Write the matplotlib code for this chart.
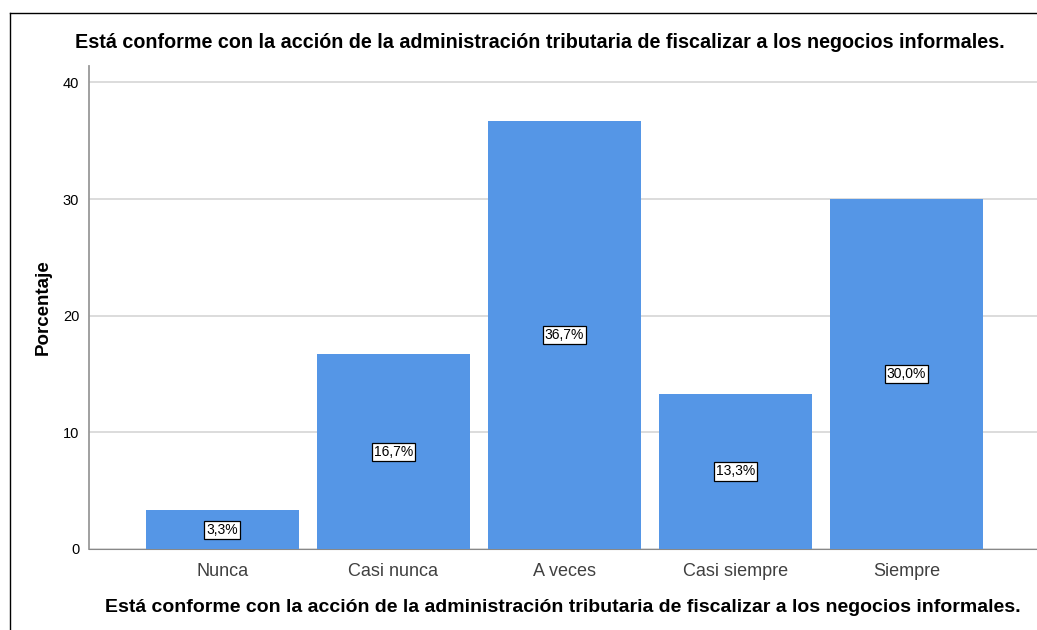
import matplotlib
matplotlib.use('Agg')
import matplotlib.pyplot as plt
from matplotlib.lines import Line2D

plt.rcParams['font.family'] = ['Liberation Sans', 'DejaVu Sans']

categorias = ['Nunca', 'Casi nunca', 'A veces', 'Casi siempre', 'Siempre']
porcentajes = [3.3, 16.7, 36.7, 13.3, 30.0]
etiquetas = ['3,3%', '16,7%', '36,7%', '13,3%', '30,0%']
yticks = [0, 10, 20, 30, 40]
titulo = 'Está conforme con la acción de la administración tributaria de fiscalizar a los negocios informales.'

fig = plt.figure(figsize=(10.37, 6.30), dpi=100)
ax = fig.add_axes([0.0858, 0.1286, 1 - 0.0858, 0.7664])

x = list(range(len(categorias)))
ax.bar(x, porcentajes, width=0.895, color='#5596e6', zorder=3)
for i, v in enumerate(porcentajes):
    ax.text(i, v / 2, etiquetas[i], ha='center', va='center', fontsize=10, zorder=4,
            bbox=dict(boxstyle='square,pad=0.15', fc='white', ec='black', lw=0.9))

ax.set_xlim(-0.78, 4.763)
ax.set_ylim(0, 41.4)
ax.set_yticks(yticks)
ax.set_xticks(x)
ax.set_xticklabels(categorias, fontsize=13, color='#404040')
ax.tick_params(axis='y', labelsize=10.5, length=0, pad=7)
ax.tick_params(axis='x', length=0, pad=10)
ax.grid(axis='y', color='#d9d9d9', lw=1.3, zorder=0)
for s in ['top', 'right']:
    ax.spines[s].set_visible(False)
ax.spines['left'].set_color('#999999')
ax.spines['bottom'].set_color('#888888')
ax.spines['left'].set_linewidth(1.3)

ax.set_ylabel('Porcentaje', fontsize=13.5, fontweight='bold', labelpad=8)
ax.set_xlabel(titulo, fontsize=14, fontweight='bold', labelpad=14)
fig.text(540 / 1037, 1 - 42 / 630, titulo, ha='center', va='center', fontsize=14.2, fontweight='bold')

# marco
fig.add_artist(Line2D([10 / 1037, 1], [1 - 13 / 630, 1 - 13 / 630], color='black', lw=1))
fig.add_artist(Line2D([10 / 1037, 10 / 1037], [0, 1 - 13 / 630], color='black', lw=1))

fig.savefig('out.png', dpi=100)
